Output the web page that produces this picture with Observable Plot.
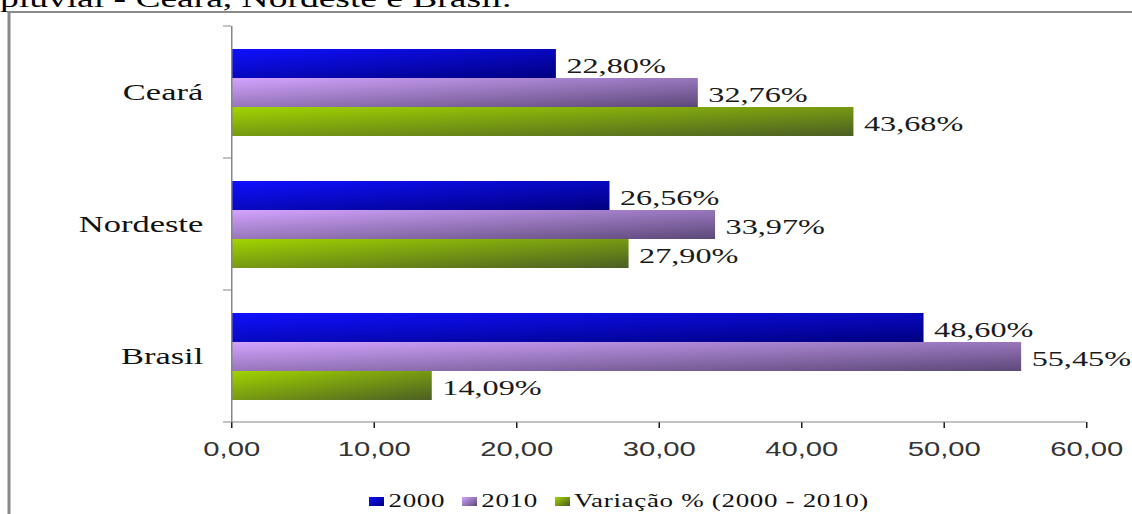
<!DOCTYPE html>
<html>
<head>
<meta charset="utf-8">
<script src="https://cdn.jsdelivr.net/npm/d3@7"></script>
<script src="https://cdn.jsdelivr.net/npm/@observablehq/plot@0.6"></script>
<style>
html,body{margin:0;padding:0;background:#fff;overflow:hidden;width:1132px;height:514px;}
#wrap{position:absolute;left:0;top:0;width:754.667px;height:514px;transform:scaleX(1.5);transform-origin:0 0;}
#caption{position:absolute;left:0;top:-14px;font-family:"Liberation Serif";font-size:25px;line-height:25px;white-space:nowrap;color:#000;}
#chart{position:absolute;left:0;top:14px;}
#border{position:absolute;left:5.33px;top:11px;width:2000px;height:1000px;border-left:2px solid #8a8a8a;border-top:2px solid #8a8a8a;pointer-events:none;}
#legend{position:absolute;left:246px;top:492px;display:flex;align-items:center;font-family:"Liberation Serif";font-size:18px;line-height:18px;letter-spacing:0.45px;color:#111;white-space:nowrap;}
#legend .item{display:flex;align-items:center;margin-right:11px;}
#legend .sw{display:inline-block;width:10px;height:9px;margin-right:3px;}
</style>
</head>
<body>
<div id="wrap">
  <div id="caption">pluvial - Ceará, Nordeste e Brasil.</div>
  <div id="chart"></div>
  <div id="legend"></div>
  <div id="border"></div>
</div>
<script>
// ---- data ----
const categories = ["Ceará", "Nordeste", "Brasil"];
const series = ["2000", "2010", "Variação % (2000 - 2010)"];
const values2000 = [22.80, 26.56, 48.60];
const values2010 = [32.76, 33.97, 55.45];
const valuesVar = [43.68, 27.90, 14.09];
const xTicks = [0, 10, 20, 30, 40, 50, 60];
const seriesColors = [
  ["#1010ff", "#000080"],
  ["#d3a4ff", "#5c4878"],
  ["#a2d400", "#4b5e24"]
];

const columns = [values2000, values2010, valuesVar];
const rows = [];
categories.forEach((cat, i) => {
  series.forEach((s, j) => rows.push({cat, series: s, value: columns[j][i]}));
});
const gradIds = ["g2000", "g2010", "gVar"];

const fmt = v => v.toFixed(2).replace(".", ",");

const plot = Plot.plot({
  width: 754.667,
  height: 458,
  marginTop: 12,
  marginBottom: 50,
  marginLeft: 154,
  marginRight: 30.667,
  style: {fontFamily: "Liberation Serif", fontSize: "22px", background: "transparent", color: "#1a1a1a", overflow: "visible"},
  x: {domain: [0, 60], ticks: xTicks, tickFormat: fmt, tickSize: 6, tickPadding: 14, label: null},
  fy: {domain: categories, padding: 0, axis: "left", tickSize: 0, tickPadding: 19, label: null},
  y: {domain: series, axis: null, paddingInner: 0, paddingOuter: 0.75},
  color: {domain: series, range: gradIds.map(id => `url(#${id})`)},
  marks: [
    Plot.barX(rows, {fy: "cat", y: "series", x: "value", fill: "series"}),
    Plot.text(rows, {fy: "cat", y: "series", x: "value", text: d => fmt(d.value) + "%", textAnchor: "start", dx: 6.5, dy: 2, fontSize: 21.5, fill: "#1a1a1a"}),
    Plot.ruleX([0], {stroke: "#868686", strokeWidth: 1})
  ]
});

const svg = d3.select(plot);
const defs = svg.insert("defs", ":first-child");
gradIds.forEach((id, i) => {
  const lg = defs.append("linearGradient").attr("id", id)
    .attr("x1", 0).attr("y1", 0).attr("x2", 1).attr("y2", 1);
  lg.append("stop").attr("offset", "0%").attr("stop-color", seriesColors[i][0]);
  lg.append("stop").attr("offset", "100%").attr("stop-color", seriesColors[i][1]);
});

svg.selectAll('g[aria-label="x-axis tick"]').attr("stroke", "#868686");
svg.selectAll('g[aria-label="x-axis tick label"]')
  .attr("font-family", "Liberation Sans").attr("font-size", 19.5).attr("fill", "#333");
svg.selectAll('g[aria-label="fy-axis tick label"]')
  .attr("font-size", 23).attr("fill", "#111");

// axis line + category boundary ticks, from the plot's own scales
const fyS = plot.scale("fy"), xS = plot.scale("x");
const x0 = xS.apply(0), x1 = xS.apply(60);
const bounds = categories.map(c => fyS.apply(c));
const bottom = fyS.apply(categories[categories.length - 1]) + fyS.bandwidth;
bounds.push(bottom);
const ag = svg.append("g").attr("stroke", "#868686").attr("stroke-width", 1);
bounds.forEach(b => ag.append("line").attr("x1", x0 - 5.33).attr("x2", x0).attr("y1", b).attr("y2", b));
ag.append("line").attr("x1", x0).attr("x2", x1).attr("y1", bottom).attr("y2", bottom);

document.getElementById("chart").appendChild(plot);

// legend
const legend = d3.select("#legend");
series.forEach((s, i) => {
  const it = legend.append("div").attr("class", "item");
  it.append("span").attr("class", "sw")
    .style("background", `linear-gradient(135deg, ${seriesColors[i][0]}, ${seriesColors[i][1]})`);
  it.append("span").text(s);
});
</script>
</body>
</html>
